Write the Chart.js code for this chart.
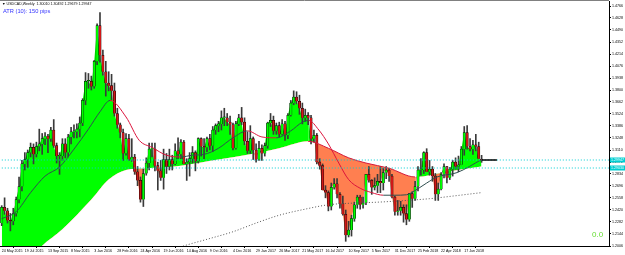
<!DOCTYPE html>
<html>
<head>
<meta charset="utf-8">
<script src="https://cdn.jsdelivr.net/npm/chart.js@4.4.1/dist/chart.umd.min.js"></script>
<style>
  html, body { margin: 0; padding: 0; background: #fff; }
  #wrap { width: 625px; height: 255px; }
</style>
</head>
<body>
<div id="wrap"><canvas id="chart" width="625" height="255"></canvas></div>
<script>
// USDCAD weekly bars, first bar = week of 24 May 2015
const opens = [
  1.2270,1.2450,1.2410,1.2300,1.2290,1.2380,1.2540,1.2690,1.2950,1.3000,
  1.3080,1.3140,1.3060,1.3150,1.3180,1.3240,1.3270,1.3240,1.3340,1.3160,
  1.3040,1.3040,1.3180,1.3080,1.3260,1.3320,1.3320,1.3350,1.3420,1.3680,
  1.3900,1.3900,1.3840,1.4130,1.4540,1.4200,1.4010,1.3880,1.3850,1.3790,
  1.3530,1.3400,1.3310,1.3070,1.3240,1.3000,1.3030,1.2860,1.2760,1.2540,
  1.2840,1.2960,1.3120,1.3120,1.2930,1.2870,1.2790,1.3000,1.2920,1.3000,
  1.2950,1.3100,1.3060,1.3200,1.2950,1.2970,1.3010,1.3080,1.2980,1.3240,
  1.3150,1.3140,1.3240,1.3160,1.3340,1.3390,1.3410,1.3480,1.3480,1.3430,
  1.3400,1.3130,1.3410,1.3480,1.3430,1.3210,1.3100,1.3240,1.3110,1.3000,
  1.3130,1.3070,1.3160,1.3420,1.3450,1.3330,1.3390,1.3290,1.3410,1.3280,
  1.3510,1.3650,1.3720,1.3670,1.3590,1.3480,1.3510,1.3480,1.3240,1.3280,
  1.2970,1.2930,1.2650,1.2620,1.2460,1.2680,1.2720,1.2600,1.2490,1.2370,
  1.2130,1.2190,1.2320,1.2480,1.2570,1.2480,1.2500,1.2830,1.2760,1.2680,
  1.2700,1.2750,1.2730,1.2850,1.2880,1.2810,1.2570,1.2400,1.2410,1.2450,
  1.2380,1.2310,1.2610,1.2550,1.2690,1.2880,1.2880,1.3080,1.2860,1.2890,
  1.2810,1.2600,1.2660,1.2830,1.2920,1.2790,1.2890,1.2970,1.2920,1.2940,
  1.3120,1.3310,1.3150,1.3120,1.3170,1.3150,1.3001
];
const highs = [
  1.2470,1.2560,1.2440,1.2380,1.2440,1.2570,1.2800,1.2990,1.3080,1.3110,
  1.3190,1.3180,1.3200,1.3350,1.3300,1.3310,1.3290,1.3370,1.3460,1.3190,
  1.3080,1.3240,1.3240,1.3290,1.3370,1.3400,1.3410,1.3490,1.3700,1.4000,
  1.3990,1.3960,1.4140,1.4560,1.4690,1.4260,1.4130,1.4010,1.3980,1.3880,
  1.3590,1.3420,1.3350,1.3300,1.3290,1.3240,1.3060,1.2920,1.2800,1.2890,
  1.3020,1.3190,1.3190,1.3190,1.2970,1.2990,1.3120,1.3070,1.3120,1.3050,
  1.3180,1.3250,1.3230,1.3220,1.3010,1.3080,1.3150,1.3100,1.3250,1.3250,
  1.3240,1.3260,1.3290,1.3380,1.3410,1.3440,1.3560,1.3590,1.3530,1.3500,
  1.3420,1.3440,1.3520,1.3600,1.3480,1.3320,1.3390,1.3260,1.3180,1.3210,
  1.3170,1.3190,1.3430,1.3530,1.3500,1.3420,1.3430,1.3460,1.3440,1.3530,
  1.3680,1.3790,1.3780,1.3740,1.3650,1.3580,1.3540,1.3510,1.3340,1.3300,
  1.3010,1.2950,1.2700,1.2640,1.2730,1.2780,1.2780,1.2620,1.2580,1.2420,
  1.2290,1.2360,1.2510,1.2590,1.2590,1.2570,1.2830,1.2920,1.2770,1.2790,
  1.2830,1.2920,1.2900,1.2920,1.2900,1.2830,1.2580,1.2530,1.2520,1.2480,
  1.2480,1.2610,1.2630,1.2750,1.2920,1.3010,1.3090,1.3125,1.2990,1.2920,
  1.2840,1.2730,1.2850,1.2950,1.2920,1.2910,1.2990,1.3020,1.3040,1.3150,
  1.3380,1.3390,1.3240,1.3220,1.3290,1.3200,1.3049
];
const lows = [
  1.2240,1.2370,1.2270,1.2180,1.2250,1.2350,1.2500,1.2640,1.2880,1.2910,
  1.3030,1.2950,1.3030,1.3100,1.3060,1.3170,1.3080,1.3210,1.3140,1.2960,
  1.2830,1.2990,1.3020,1.3030,1.3180,1.3250,1.3250,1.3260,1.3390,1.3630,
  1.3820,1.3800,1.3820,1.4090,1.4120,1.3970,1.3730,1.3790,1.3690,1.3500,
  1.3360,1.3250,1.2990,1.3050,1.2990,1.2980,1.2830,1.2700,1.2510,1.2460,
  1.2820,1.2880,1.3030,1.2870,1.2650,1.2760,1.2660,1.2840,1.2880,1.2880,
  1.2940,1.3010,1.3010,1.2950,1.2760,1.2810,1.2960,1.2870,1.2960,1.3040,
  1.3010,1.3090,1.3110,1.3090,1.3290,1.3320,1.3340,1.3390,1.3390,1.3290,
  1.3110,1.3120,1.3390,1.3400,1.3170,1.3070,1.3070,1.3000,1.2970,1.2990,
  1.2990,1.3040,1.3130,1.3380,1.3290,1.3290,1.3260,1.3280,1.3220,1.3240,
  1.3500,1.3630,1.3640,1.3520,1.3410,1.3440,1.3400,1.3180,1.3200,1.2950,
  1.2890,1.2650,1.2560,1.2410,1.2420,1.2660,1.2560,1.2440,1.2360,1.2060,
  1.2110,1.2120,1.2290,1.2440,1.2430,1.2440,1.2480,1.2740,1.2600,1.2650,
  1.2620,1.2620,1.2650,1.2780,1.2750,1.2560,1.2360,1.2360,1.2360,1.2280,
  1.2250,1.2290,1.2450,1.2530,1.2640,1.2820,1.2840,1.2860,1.2820,1.2750,
  1.2530,1.2530,1.2650,1.2790,1.2730,1.2770,1.2810,1.2890,1.2860,1.2940,
  1.3050,1.3120,1.3100,1.3060,1.3100,1.3010,1.2968
];
const closes = [
  1.2450,1.2410,1.2300,1.2290,1.2380,1.2540,1.2690,1.2950,1.3000,1.3080,
  1.3140,1.3060,1.3150,1.3180,1.3240,1.3270,1.3240,1.3340,1.3160,1.3040,
  1.3040,1.3180,1.3080,1.3260,1.3320,1.3320,1.3350,1.3420,1.3680,1.3900,
  1.3900,1.3840,1.4130,1.4540,1.4200,1.4010,1.3880,1.3850,1.3790,1.3530,
  1.3400,1.3310,1.3070,1.3240,1.3000,1.3030,1.2860,1.2760,1.2540,1.2840,
  1.2960,1.3120,1.3120,1.2930,1.2870,1.2790,1.3000,1.2920,1.3000,1.2950,
  1.3100,1.3060,1.3200,1.2950,1.2970,1.3010,1.3080,1.2980,1.3240,1.3150,
  1.3140,1.3240,1.3160,1.3340,1.3390,1.3410,1.3480,1.3480,1.3430,1.3400,
  1.3130,1.3410,1.3480,1.3430,1.3210,1.3100,1.3240,1.3110,1.3000,1.3130,
  1.3070,1.3160,1.3420,1.3450,1.3330,1.3390,1.3290,1.3410,1.3280,1.3510,
  1.3650,1.3720,1.3670,1.3590,1.3480,1.3510,1.3480,1.3240,1.3280,1.2970,
  1.2930,1.2650,1.2620,1.2460,1.2680,1.2720,1.2600,1.2490,1.2370,1.2130,
  1.2190,1.2320,1.2480,1.2570,1.2480,1.2500,1.2830,1.2760,1.2680,1.2700,
  1.2750,1.2730,1.2850,1.2880,1.2810,1.2570,1.2400,1.2410,1.2450,1.2380,
  1.2310,1.2610,1.2550,1.2690,1.2880,1.2880,1.3080,1.2860,1.2890,1.2810,
  1.2600,1.2660,1.2830,1.2920,1.2790,1.2890,1.2970,1.2920,1.2940,1.3120,
  1.3310,1.3150,1.3120,1.3170,1.3150,1.3010,1.2995
];

// slow average (edge of the coloured band), read at bar positions
const slowMaIdx = [0, 7, 14, 21, 31, 37, 43, 50, 62, 75, 86, 96, 106, 113, 120, 126, 134, 143, 154, 166];
const slowMaVal = [1.150, 1.176, 1.201, 1.220, 1.254, 1.277, 1.288, 1.290, 1.293, 1.300, 1.306, 1.313, 1.321, 1.313, 1.302, 1.296, 1.290, 1.280, 1.286, 1.292];

// medium average (dark when rising, red when falling)
const midMaIdx = [0, 5, 10, 15, 20, 25, 30, 34, 37.5, 43, 47.6, 52, 57, 62, 66, 70, 75, 80, 85, 90, 95, 100, 104, 106.2, 109.7, 113, 116.6, 120, 124, 128, 132, 136, 140, 142.3, 147, 150.6, 157.5, 166];
const midMaVal = [1.232, 1.240, 1.262, 1.281, 1.2915, 1.312, 1.335, 1.355, 1.368, 1.349, 1.322, 1.314, 1.305, 1.303, 1.305, 1.306, 1.313, 1.325, 1.333, 1.326, 1.325, 1.333, 1.343, 1.345, 1.334, 1.318, 1.296, 1.277, 1.267, 1.262, 1.259, 1.259, 1.2595, 1.263, 1.273, 1.280, 1.285, 1.300];

// long average (dotted)
const longMaIdx = [55, 62.4, 70.7, 80, 88, 96, 105, 113, 122, 130, 140, 148, 156, 166];
const longMaVal = [1.190, 1.200, 1.208, 1.217, 1.227, 1.236, 1.243, 1.248, 1.250, 1.251, 1.253, 1.255, 1.258, 1.262];

// horizontal levels and last price
const levelVals = [1.2995, 1.2903];
const levelText = ['1.29947', '1.29030'];
const lastPrice = 1.2995;

// axis ticks
const xTickIdx = [0, 8, 16, 24, 32, 40, 48, 56, 64, 72, 80, 88, 96, 104, 112, 120, 128, 136, 144, 152, 160];
const xTickLabels = ['24 May 2015', '19 Jul 2015', '13 Sep 2015', '8 Nov 2015', '3 Jan 2016', '28 Feb 2016',
  '24 Apr 2016', '19 Jun 2016', '14 Aug 2016', '9 Oct 2016', '4 Dec 2016', '29 Jan 2017', '26 Mar 2017',
  '21 May 2017', '16 Jul 2017', '10 Sep 2017', '5 Nov 2017', '31 Dec 2017', '25 Feb 2018', '22 Apr 2018', '17 Jun 2018'];
const priceTicks = [1.4766, 1.4628, 1.4490, 1.4352, 1.4214, 1.4076, 1.3938, 1.3800, 1.3662, 1.3524, 1.3386,
  1.3248, 1.3110, 1.2972, 1.2834, 1.2696, 1.2558, 1.2420, 1.2282, 1.2144, 1.2006];

const GREEN = '#00ff00';
const CORAL = '#ff7f50';
const RED = '#dc143c';
const SMALL = '"Liberation Sans", Arial, sans-serif';

const pts = (xs, ys) => xs.map((x, i) => ({ x: x, y: ys[i] }));

const overlay = {
  id: 'overlay',
  afterDraw(chart) {
    const { ctx, chartArea: a, scales } = chart;
    ctx.save();
    ctx.strokeStyle = '#808080';
    ctx.lineWidth = 1;
    ctx.beginPath();
    ctx.moveTo(a.left, 0.5);
    ctx.lineTo(a.right, 0.5);
    ctx.stroke();

    ctx.textBaseline = 'middle';
    ctx.textAlign = 'left';
    ctx.fillStyle = '#000';
    ctx.font = '3.6px ' + SMALL;
    ctx.fillText('\u25BC USDCAD,Weekly  1.30010 1.30492 1.29679 1.29947', 2, 4);

    ctx.fillStyle = '#3434ff';
    ctx.font = '5.7px ' + SMALL;
    ctx.fillText('ATR (10): 150 pips', 3, 11.5);

    ctx.fillStyle = '#66dd33';
    ctx.font = '8px ' + SMALL;
    ctx.fillText('0.0', 592, 234.5);

    ctx.font = '3.6px ' + SMALL;
    levelVals.forEach((v, k) => {
      const py = scales.y.getPixelForValue(v);
      ctx.fillStyle = '#00ced1';
      ctx.fillRect(a.right + 1, py - 2.5, 16, 5);
      ctx.fillStyle = '#ffffff';
      ctx.fillText(levelText[k], a.right + 2, py);
    });
    ctx.restore();
  }
};

new Chart(document.getElementById('chart'), {
  type: 'bar',
  data: {
    datasets: [
      {
        type: 'line', label: 'close', order: 20,
        data: pts(closes.map((c, i) => i), closes),
        borderWidth: 0, pointRadius: 0, borderColor: 'rgba(0,0,0,0)',
        fill: { target: 1, above: GREEN, below: CORAL }
      },
      {
        type: 'line', label: 'slow', order: 3,
        data: pts(slowMaIdx, slowMaVal),
        borderWidth: 1, pointRadius: 0, cubicInterpolationMode: 'monotone',
        segment: { borderColor: c => c.p1.parsed.y < c.p0.parsed.y ? RED : 'rgba(0,0,0,0)' }
      },
      {
        type: 'line', label: 'mid', order: 2,
        data: pts(midMaIdx, midMaVal),
        borderWidth: 1, pointRadius: 0, cubicInterpolationMode: 'monotone',
        segment: { borderColor: c => c.p1.parsed.y < c.p0.parsed.y ? RED : '#2f4f4f' }
      },
      {
        type: 'line', label: 'long', order: 2,
        data: pts(longMaIdx, longMaVal),
        borderWidth: 1, pointRadius: 0, borderColor: '#555', borderDash: [1, 2],
        cubicInterpolationMode: 'monotone'
      },
      {
        type: 'line', label: 'lvl1', order: 1,
        data: [{ x: -1, y: levelVals[0] }, { x: 211, y: levelVals[0] }],
        borderWidth: 1, pointRadius: 0, borderColor: '#00ced1', borderDash: [1, 2]
      },
      {
        type: 'line', label: 'lvl2', order: 1,
        data: [{ x: -1, y: levelVals[1] }, { x: 211, y: levelVals[1] }],
        borderWidth: 1, pointRadius: 0, borderColor: '#00ced1', borderDash: [1, 2]
      },
      {
        type: 'line', label: 'last', order: 0,
        data: [{ x: 166.1, y: lastPrice }, { x: 171.3, y: lastPrice }],
        borderWidth: 1.5, pointRadius: 0, borderColor: '#000'
      },
      {
        label: 'wick', order: 6, grouped: false,
        data: lows.map((l, i) => ({ x: i, y: [l, highs[i]] })),
        backgroundColor: '#3a3a3a', barThickness: 1
      },
      {
        label: 'body', order: 5, grouped: false,
        data: opens.map((o, i) => ({ x: i, y: [o, closes[i]] })),
        backgroundColor: opens.map((o, i) => closes[i] >= o ? GREEN : '#d01818'),
        borderColor: '#000', borderWidth: 0.5, barThickness: 2.4, minBarLength: 1
      }
    ]
  },
  options: {
    responsive: false,
    devicePixelRatio: 1,
    animation: false,
    layout: { padding: { top: 1, left: 0, right: 0, bottom: 0 } },
    plugins: {
      legend: { display: false },
      tooltip: { enabled: false },
      filler: { drawTime: 'beforeDatasetsDraw' }
    },
    scales: {
      x: {
        type: 'linear', position: 'bottom', offset: false,
        min: -0.588, max: 210.07,
        afterBuildTicks: s => { s.ticks = xTickIdx.map(v => ({ value: v })); },
        afterFit: s => { s.height = 9; s.paddingLeft = 0; s.paddingRight = 0; },
        ticks: {
          autoSkip: false, maxRotation: 0, align: 'start', padding: 0.5,
          color: '#000', font: { size: 3.6, family: SMALL },
          callback: (v, i) => xTickLabels[i]
        },
        grid: { drawOnChartArea: false, drawTicks: true, tickLength: 2, color: '#000' },
        border: { display: true, color: '#000', width: 1 }
      },
      y: {
        type: 'linear', position: 'right', beginAtZero: false,
        min: 1.2006, max: 1.48235,
        afterBuildTicks: s => { s.ticks = priceTicks.map(v => ({ value: v })); },
        afterFit: s => { s.width = 16; s.paddingTop = 0; s.paddingBottom = 0; },
        ticks: {
          autoSkip: false, padding: 1, color: '#000',
          font: { size: 3.6, family: SMALL },
          callback: v => v.toFixed(4)
        },
        grid: { drawOnChartArea: false, drawTicks: true, tickLength: 2, color: '#000' },
        border: { display: true, color: '#000', width: 1 }
      }
    }
  },
  plugins: [overlay]
});
</script>
</body>
</html>
